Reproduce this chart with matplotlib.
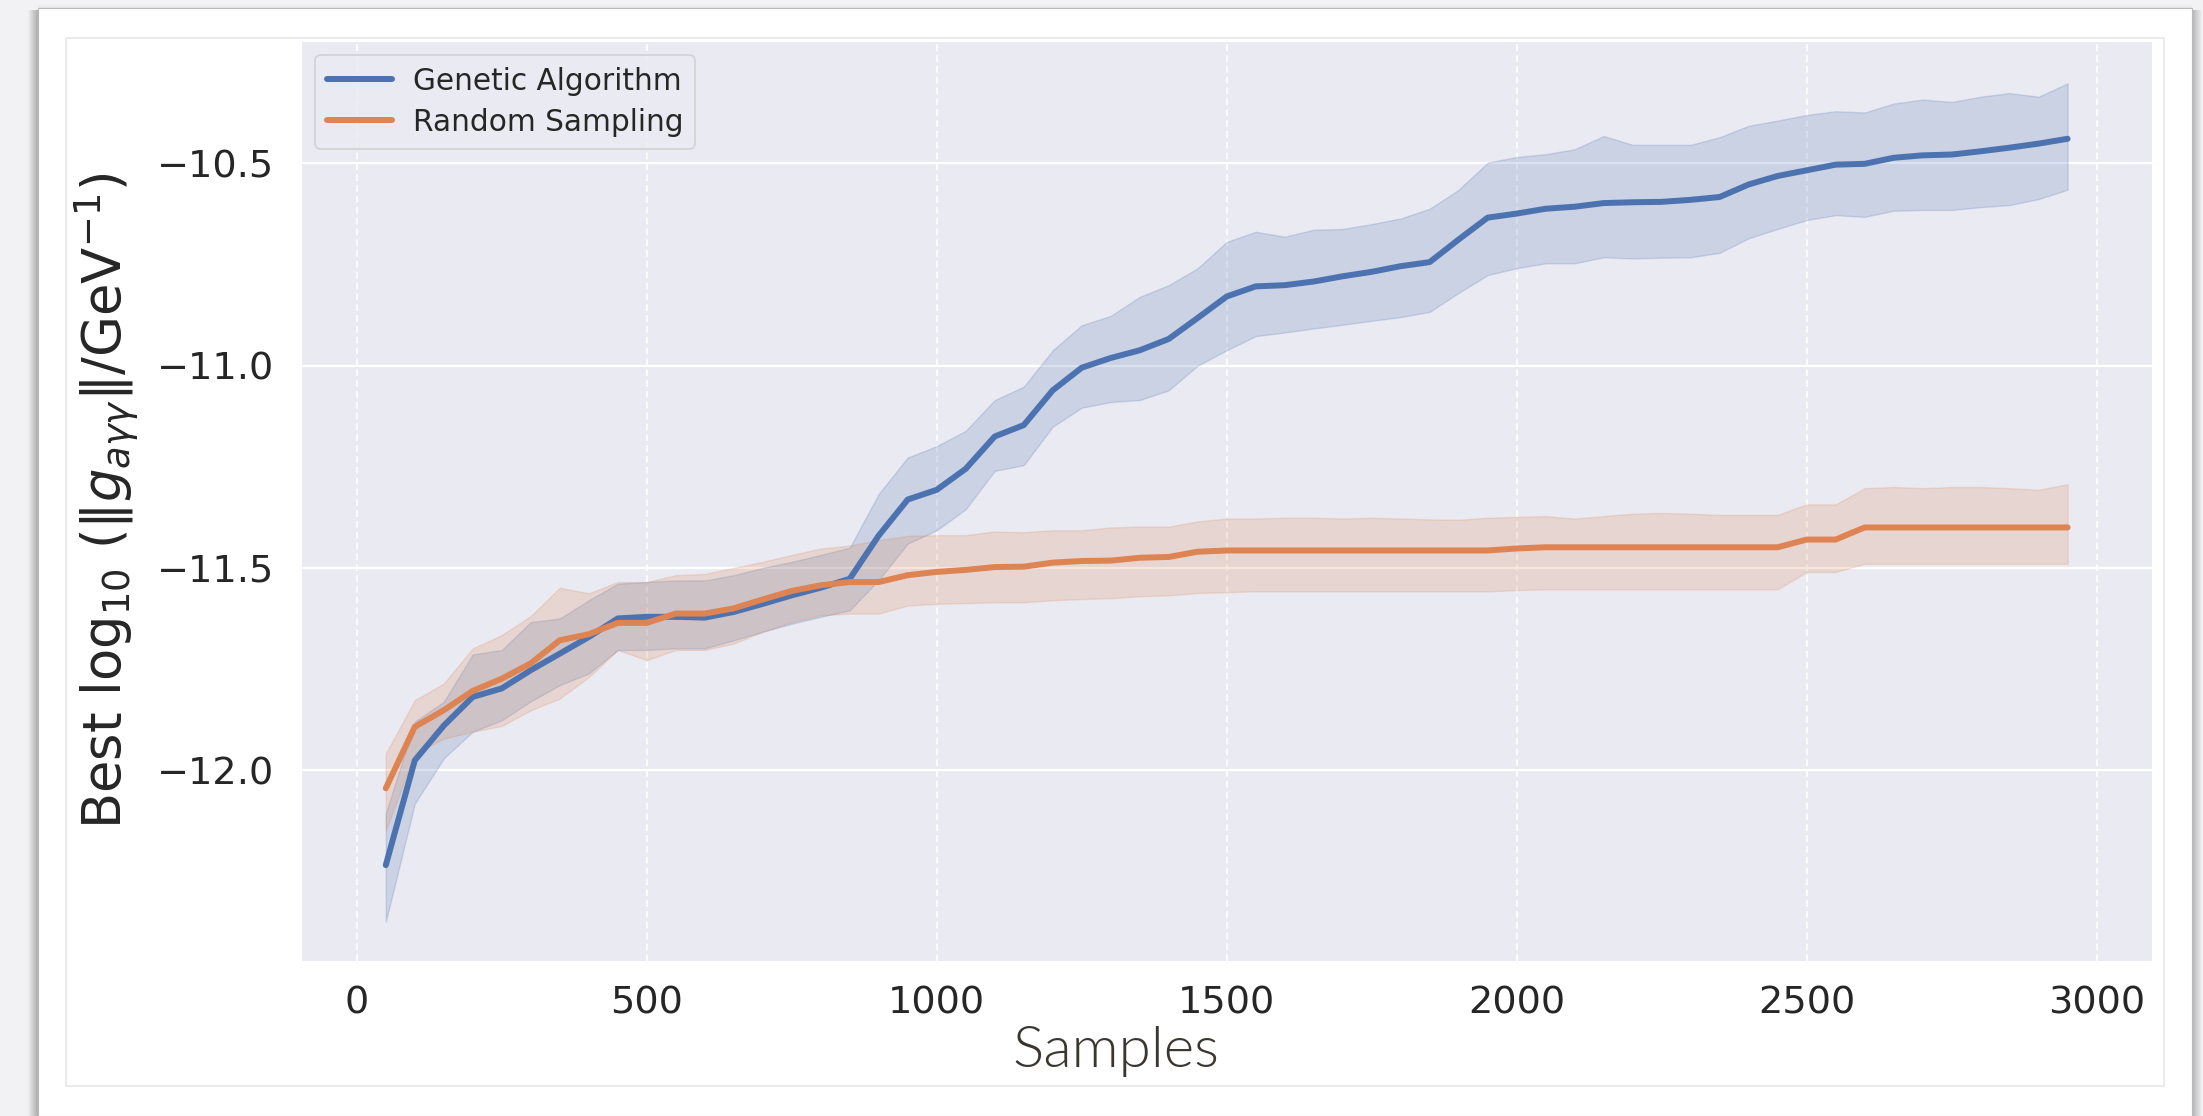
import matplotlib
matplotlib.use("Agg")
import matplotlib.pyplot as plt
import seaborn as sns
from matplotlib.patches import Rectangle

# ---------------- data ----------------
samples = list(range(50, 3000, 50))

ga_mean = [-12.235, -11.976, -11.89, -11.819, -11.798, -11.753, -11.712, -11.671, -11.625, -11.621,
           -11.621, -11.623, -11.609, -11.589, -11.568, -11.549, -11.527, -11.42, -11.331, -11.307,
           -11.255, -11.175, -11.147, -11.061, -11.005, -10.981, -10.962, -10.934, -10.882, -10.829,
           -10.804, -10.801, -10.792, -10.779, -10.768, -10.754, -10.744, -10.688, -10.634, -10.624,
           -10.612, -10.607, -10.598, -10.596, -10.595, -10.590, -10.583, -10.552, -10.531, -10.517,
           -10.503, -10.501, -10.486, -10.480, -10.478, -10.470, -10.461, -10.451, -10.439]
ga_upper = [-12.107, -11.88, -11.831, -11.714, -11.703, -11.634, -11.625, -11.58, -11.539, -11.535,
            -11.531, -11.531, -11.518, -11.50, -11.485, -11.468, -11.45, -11.317, -11.227, -11.199,
            -11.161, -11.085, -11.052, -10.962, -10.900, -10.877, -10.830, -10.801, -10.759, -10.694,
            -10.669, -10.681, -10.664, -10.662, -10.650, -10.636, -10.612, -10.565, -10.498, -10.484,
            -10.477, -10.465, -10.432, -10.454, -10.454, -10.454, -10.435, -10.407, -10.394, -10.380,
            -10.371, -10.374, -10.352, -10.342, -10.348, -10.335, -10.326, -10.335, -10.302]
ga_lower = [-12.375, -12.083, -11.971, -11.905, -11.877, -11.83, -11.79, -11.761, -11.703, -11.703,
            -11.699, -11.699, -11.679, -11.658, -11.638, -11.621, -11.605, -11.53, -11.44, -11.407,
            -11.355, -11.260, -11.246, -11.151, -11.104, -11.090, -11.085, -11.061, -11.000, -10.962,
            -10.927, -10.918, -10.908, -10.899, -10.889, -10.880, -10.867, -10.820, -10.776, -10.759,
            -10.747, -10.747, -10.732, -10.735, -10.733, -10.732, -10.721, -10.685, -10.662, -10.640,
            -10.628, -10.632, -10.617, -10.615, -10.615, -10.608, -10.603, -10.588, -10.565]

rs_mean = [-12.045, -11.893, -11.852, -11.804, -11.774, -11.736, -11.679, -11.664, -11.636, -11.636,
           -11.613, -11.613, -11.600, -11.578, -11.557, -11.543, -11.535, -11.535, -11.518, -11.510,
           -11.505, -11.498, -11.497, -11.487, -11.483, -11.482, -11.475, -11.473, -11.460, -11.457,
           -11.457, -11.457, -11.457, -11.457, -11.457, -11.457, -11.457, -11.457, -11.457, -11.452,
           -11.449, -11.449, -11.449, -11.449, -11.449, -11.449, -11.449, -11.449, -11.449, -11.430,
           -11.430, -11.400, -11.400, -11.400, -11.400, -11.400, -11.400, -11.400, -11.400]
rs_upper = [-11.959, -11.827, -11.786, -11.699, -11.666, -11.619, -11.549, -11.563, -11.535, -11.535,
            -11.518, -11.515, -11.50, -11.485, -11.468, -11.452, -11.445, -11.431, -11.421, -11.419,
            -11.419, -11.41, -11.412, -11.407, -11.407, -11.40, -11.398, -11.398, -11.385, -11.378,
            -11.378, -11.376, -11.376, -11.378, -11.376, -11.378, -11.380, -11.381, -11.376, -11.374,
            -11.372, -11.378, -11.372, -11.366, -11.364, -11.366, -11.369, -11.369, -11.369, -11.343,
            -11.343, -11.303, -11.300, -11.303, -11.300, -11.300, -11.303, -11.307, -11.293]
rs_lower = [-12.149, -11.96, -11.922, -11.905, -11.891, -11.852, -11.823, -11.77, -11.703, -11.728,
            -11.703, -11.703, -11.687, -11.658, -11.634, -11.617, -11.613, -11.613, -11.593, -11.589,
            -11.587, -11.585, -11.585, -11.58, -11.577, -11.575, -11.57, -11.568, -11.562, -11.56,
            -11.558, -11.558, -11.558, -11.558, -11.558, -11.558, -11.558, -11.558, -11.558, -11.555,
            -11.553, -11.553, -11.553, -11.553, -11.553, -11.553, -11.553, -11.553, -11.553, -11.51,
            -11.51, -11.49, -11.49, -11.49, -11.49, -11.49, -11.49, -11.49, -11.49]

labels = ["Genetic Algorithm", "Random Sampling"]
xticks = [0, 500, 1000, 1500, 2000, 2500, 3000]
yticks = [-12.0, -11.5, -11.0, -10.5]

# ---------------- style ----------------
sns.set_theme(style="darkgrid")
plt.rcParams["font.family"] = ["DejaVu Sans"]
plt.rcParams["mathtext.fontset"] = "dejavusans"

W, H = 2203, 1116
fig = plt.figure(figsize=(W / 100, H / 100), dpi=100)
fig.patch.set_facecolor("#f2f2f4")


def px_rect(x0, y0, x1, y1, **kw):
    """rectangle given in pixel coords (origin top-left)"""
    r = Rectangle((x0 / W, 1 - y1 / H), (x1 - x0) / W, (y1 - y0) / H,
                  transform=fig.transFigure, **kw)
    fig.patches.append(r)
    return r


# card shadow (left / right / top)
for i in range(10):
    a = 0.02 + 0.028 * i
    px_rect(28 + i, 10, 29 + i, 1116, facecolor="black", alpha=a, linewidth=0, zorder=-20)
for i in range(10):
    a = 0.02 + 0.025 * (9 - i)
    px_rect(2192 + i, 10, 2193 + i, 1116, facecolor="black", alpha=a, linewidth=0, zorder=-20)
for i in range(4):
    px_rect(38, 4 + i, 2192, 5 + i, facecolor="black", alpha=0.01 + 0.01 * i, linewidth=0, zorder=-20)
# white card
px_rect(38, 8, 2192, 1116, facecolor="white", edgecolor="#b9b9b9", linewidth=0.8, zorder=-19)
# inner chart frame
px_rect(66, 38, 2164, 1086, facecolor="white", edgecolor="#e7e7e7", linewidth=1.2, zorder=-18)

# axes
ax_l, ax_r, ax_t, ax_b = 301.7, 2151.7, 41.7, 961.0
ax = fig.add_axes([ax_l / W, 1 - ax_b / H, (ax_r - ax_l) / W, (ax_b - ax_t) / H])
ax.set_facecolor("#eaeaf2")
for s in ax.spines.values():
    s.set_visible(False)

blue = "#4c72b0"
orange = "#dd8452"

ax.fill_between(samples, ga_lower, ga_upper, color=blue, alpha=0.2, linewidth=1.0, zorder=2)
ax.fill_between(samples, rs_lower, rs_upper, color=orange, alpha=0.2, linewidth=1.0, zorder=2)
ax.plot(samples, ga_mean, color=blue, linewidth=4.3, label=labels[0], zorder=3,
        solid_capstyle="round", solid_joinstyle="round")
ax.plot(samples, rs_mean, color=orange, linewidth=4.3, label=labels[1], zorder=3,
        solid_capstyle="round", solid_joinstyle="round")

ax.set_xlim(-95, 3095)
ax.set_ylim(-12.472, -10.199)
ax.set_xticks(xticks)
ax.set_yticks(yticks)
ax.set_xticklabels([str(t) for t in xticks])
ax.set_yticklabels(["\u221212.0", "\u221211.5", "\u221211.0", "\u221210.5"])
ax.tick_params(axis="both", length=0, labelsize=27.5, labelcolor="#262626")
ax.tick_params(axis="x", pad=17.5)
ax.tick_params(axis="y", pad=20)

ax.grid(axis="y", color="white", linewidth=1.6, linestyle="-")
ax.grid(axis="x", color="white", linewidth=1.2, linestyle=(0, (4, 2.5)))
ax.set_axisbelow(True)

leg = ax.legend(loc="upper left", fontsize=21.3, handlelength=2.2, handletextpad=0.7,
                borderaxespad=0.45, labelspacing=0.4, frameon=True, fancybox=True)
leg.get_frame().set_edgecolor("#cccccc")
leg.get_frame().set_facecolor("#eaeaf2")
leg.get_frame().set_linewidth(1.2)
for t in leg.get_texts():
    t.set_color("#262626")

ax.set_ylabel(r"Best $\log_{10}\,(\|g_{a\gamma\gamma}\|/\mathrm{GeV}^{-1})$",
              fontsize=38, color="#262626")
ax.yaxis.set_label_coords((107 - ax_l) / (ax_r - ax_l), 0.5)
ax.yaxis.label.set_verticalalignment("center")

fig.text(1115.4 / W, 1 - 1067 / H, "Samples", family=["Lato", "DejaVu Sans"], weight=300,
         fontsize=42, color="#3a3632", ha="center", va="baseline")

fig.savefig("out.png", dpi=100, facecolor=fig.get_facecolor())
